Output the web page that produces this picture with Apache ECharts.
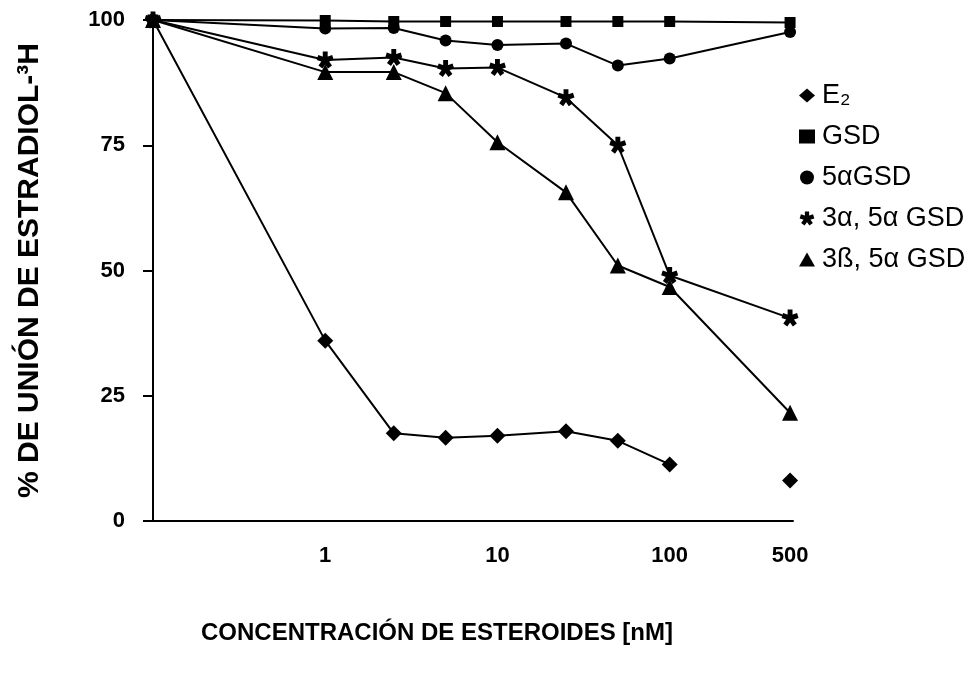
<!DOCTYPE html>
<html>
<head>
<meta charset="utf-8">
<script src="https://cdn.jsdelivr.net/npm/echarts@6/dist/echarts.min.js"></script>
<style>
  html, body { margin: 0; padding: 0; background: #fff; }
  #chart { width: 977px; height: 673px; }
</style>
</head>
<body>
<div id="chart"></div>
<script>
// concentraciones (nM), eje logarítmico
const CONC = [0.1, 1, 2.5, 5, 10, 25, 50, 100, 500]
const X_TICKS = [1, 10, 100, 500]

// % de unión
const E2 = [100, 36, 17.5, 16.6, 17, 17.9, 16, 11.3, 8.1]
const GSD = [100, 99.9, 99.7, 99.7, 99.7, 99.7, 99.7, 99.7, 99.5]
const GSD_5A = [100, 98.3, 98.4, 95.9, 95, 95.3, 90.9, 92.3, 97.6]
const GSD_3A5A = [100, 92, 92.5, 90.3, 90.5, 84.5, 75, 49, 40.5]
const GSD_3B5A = [100, 89.6, 89.6, 85.4, 75.6, 65.6, 51, 46.7, 21.6]

// E2 no está unido entre 100 y 500
const E2_GAP_AFTER = 7

const NAMES = ['E\u2082', 'GSD', '5\u03b1GSD', '3\u03b1, 5\u03b1 GSD', '3\u00df, 5\u03b1 GSD']

// asterisco de 5 brazos
const ASTERISK = 'path://M1.5,0L1.5,-5L-1.5,-5L-1.5,0Z' +
  'M0.464,1.427L5.219,-0.118L4.291,-2.972L-0.464,-1.427Z' +
  'M-1.214,0.882L1.725,4.927L4.153,3.163L1.214,-0.882Z' +
  'M-1.214,-0.882L-4.153,3.163L-1.725,4.927L1.214,0.882Z' +
  'M0.464,-1.427L-4.291,-2.972L-5.219,-0.118L-0.464,1.427Z'

const FONT = "'Liberation Sans', Arial, sans-serif"

function pairs(values, gapAfter) {
  const out = []
  values.forEach((v, i) => {
    out.push([CONC[i], v])
    if (i === gapAfter) out.push([CONC[i], '-'])
  })
  return out
}

function lineSeries(name, values, symbol, size, gapAfter) {
  return {
    name: name,
    type: 'line',
    data: pairs(values, gapAfter),
    symbol: symbol,
    symbolSize: size,
    showAllSymbol: true,
    connectNulls: false,
    lineStyle: { color: '#000', width: 2 },
    itemStyle: { color: '#000' }
  }
}

const chart = echarts.init(document.getElementById('chart'))
chart.setOption({
  animation: false,
  backgroundColor: '#fff',
  grid: {
    left: 153,
    right: 184,
    top: 20,
    bottom: 152,
    containLabel: false,
    outerBoundsMode: 'none'
  },
  legend: {
    orient: 'vertical',
    left: 794,
    top: 77,
    itemWidth: 16,
    itemHeight: 14,
    itemGap: 14,
    textStyle: { fontFamily: FONT, fontSize: 27, color: '#000', padding: [0, 0, 0, 2] },
    data: [
      { name: NAMES[0], icon: 'diamond' },
      { name: NAMES[1], icon: 'rect' },
      { name: NAMES[2], icon: 'circle' },
      { name: NAMES[3], icon: ASTERISK },
      { name: NAMES[4], icon: 'triangle' }
    ]
  },
  xAxis: {
    type: 'log',
    logBase: 10,
    min: 0.1,
    max: 520,
    name: 'CONCENTRACIÓN DE ESTEROIDES [nM]',
    nameLocation: 'middle',
    nameGap: 100,
    nameTextStyle: {
      fontFamily: FONT,
      fontSize: 24,
      fontWeight: 'bold',
      color: '#000',
      padding: [0, 72, 0, 0]
    },
    axisLine: { lineStyle: { color: '#000', width: 2 } },
    axisTick: { show: false },
    splitLine: { show: false },
    axisLabel: {
      customValues: X_TICKS,
      margin: 24,
      fontFamily: FONT,
      fontSize: 22,
      fontWeight: 'bold',
      color: '#000'
    }
  },
  yAxis: {
    type: 'value',
    min: 0,
    max: 100,
    interval: 25,
    name: '% DE UNIÓN DE ESTRADIOL-\u00b3H',
    nameLocation: 'middle',
    nameGap: 108,
    nameTextStyle: {
      fontFamily: FONT,
      fontSize: 30,
      fontWeight: 'bold',
      color: '#000'
    },
    axisLine: { show: true, lineStyle: { color: '#000', width: 2 } },
    axisTick: { show: true, length: 10, lineStyle: { color: '#000', width: 2 } },
    splitLine: { show: false },
    axisLabel: {
      margin: 28,
      fontFamily: FONT,
      fontSize: 22,
      fontWeight: 'bold',
      color: '#000'
    }
  },
  series: [
    lineSeries(NAMES[0], E2, 'diamond', 16, E2_GAP_AFTER),
    lineSeries(NAMES[1], GSD, 'rect', 11),
    lineSeries(NAMES[2], GSD_5A, 'circle', 12),
    lineSeries(NAMES[3], GSD_3A5A, ASTERISK, 17),
    lineSeries(NAMES[4], GSD_3B5A, 'triangle', 16)
  ]
})
</script>
</body>
</html>
